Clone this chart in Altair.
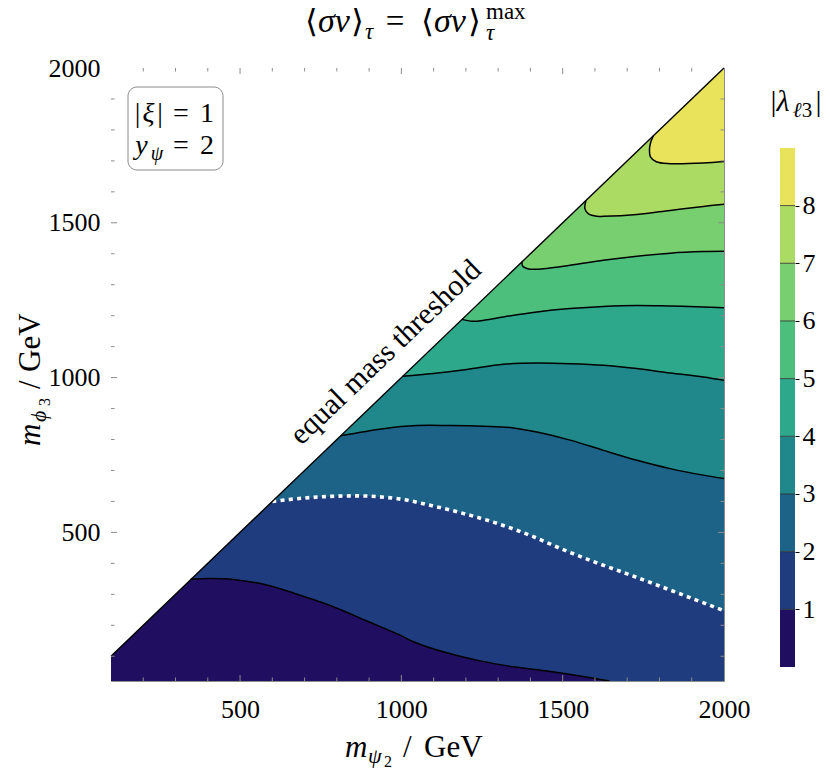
import altair as alt
import pandas as pd

FONT = "Liberation Serif"
FRAME = "#8c8c8c"

# ---------------- data ----------------
X_MIN, X_MAX = 100, 2000
Y_MIN, Y_MAX = 20, 2000
X_TICK_LABELS = [500, 1000, 1500, 2000]
Y_TICK_LABELS = [500, 1000, 1500, 2000]
X_MINOR = [200, 300, 400, 600, 700, 800, 900, 1100, 1200, 1300, 1400, 1600, 1700, 1800, 1900]
Y_MINOR = [100, 200, 300, 400, 600, 700, 800, 900, 1100, 1200, 1300, 1400, 1600, 1700, 1800, 1900]

LEVELS = [1, 2, 3, 4, 5, 6, 7, 8]
BAND_LO = [0, 1, 2, 3, 4, 5, 6, 7, 8]
BAND_COLORS = ["#200f60", "#1e3c7e", "#1d6387", "#20878a", "#2ea88a",
               "#4cbf7d", "#77cf6f", "#acdb64", "#e8e35a"]

# contour lines |lambda| = 1 ... 8 (x = m_psi2, y = m_phi3)
C1_X = [347, 407, 479, 583, 686, 789, 893, 996, 1037, 1141, 1244, 1347, 1451, 1554, 1645]
C1_Y = [349, 351, 348, 330, 297, 260, 214, 168, 147, 111, 85, 66, 52, 36, 20]
C2_X = [600, 700, 800, 900, 1000, 1100, 1200, 1300, 1400, 1500, 1600, 1700, 1800, 1900, 2000]
C2_Y = [600, 611, 617, 617, 607, 585, 559, 528, 490, 445, 404, 366, 327, 287, 247]
C3_X = [812, 944, 1048, 1151, 1254, 1337, 1420, 1523, 1626, 1730, 1833, 1936, 2000]
C3_Y = [812, 835, 845, 845, 843, 839, 824, 798, 765, 733, 706, 685, 674]
C4_X = [1004, 1099, 1203, 1316, 1420, 1523, 1626, 1730, 1833, 1936, 2000]
C4_Y = [1004, 1013, 1026, 1043, 1047, 1045, 1040, 1029, 1015, 1002, 991]
C5_X = [1188, 1220, 1260, 1316, 1420, 1523, 1626, 1730, 1833, 1936, 2000]
C5_Y = [1188, 1182, 1186, 1196, 1212, 1223, 1230, 1233, 1231, 1228, 1226]
C6_X = [1374, 1376, 1394, 1420, 1523, 1626, 1730, 1833, 1936, 2000]
C6_Y = [1374, 1360, 1351, 1350, 1363, 1379, 1392, 1402, 1407, 1408]
C7_X = [1572, 1569, 1580, 1606, 1626, 1730, 1833, 1936, 2000]
C7_Y = [1572, 1545, 1529, 1521, 1521, 1527, 1540, 1553, 1560]
C8_X = [1781, 1772, 1769, 1772, 1790, 1833, 1936, 2000]
C8_Y = [1781, 1757, 1735, 1713, 1697, 1691, 1693, 1698]

CONTOURS = [(C1_X, C1_Y), (C2_X, C2_Y), (C3_X, C3_Y), (C4_X, C4_Y),
            (C5_X, C5_Y), (C6_X, C6_Y), (C7_X, C7_Y), (C8_X, C8_Y)]

# colour bar axis domain (levels 0..9 with margins inside the panel)
CB_DOMAIN = [-0.243, 10.386]

W, H = 613, 613
PAD = 40  # fill polygons reach past the frame and are clipped

# ---------------- helpers ----------------
XS = alt.Scale(domain=[X_MIN, X_MAX], nice=False, zero=False)
YS = alt.Scale(domain=[Y_MIN, Y_MAX], nice=False, zero=False)
XAX = alt.Axis(values=X_TICK_LABELS, title=None, format="d", labelFontSize=26,
               labelPadding=15, ticks=False, domain=False, grid=False, labelFlush=False,
               labelFont=FONT, labelColor="black")
YAX = alt.Axis(values=Y_TICK_LABELS, title=None, format="d", labelFontSize=26,
               labelPadding=11, ticks=False, domain=False, grid=False, labelFlush=False,
               labelFont=FONT, labelColor="black")


def ex():
    return alt.X("x:Q", scale=XS, axis=XAX)


def ey():
    return alt.Y("y:Q", scale=YS, axis=YAX)


def poly_df(pts):
    return pd.DataFrame({"x": [p[0] for p in pts], "y": [p[1] for p in pts],
                         "i": list(range(len(pts)))})


def region_below(cx, cy):
    s = cx[0]
    lo = X_MIN - PAD
    pts = [(lo, Y_MIN - PAD), (lo, lo), (lo + 1, lo + 1), (s - 1, s - 1)]
    pts += list(zip(cx, cy))
    x1, y1, x2, y2 = cx[-2], cy[-2], cx[-1], cy[-1]
    if x2 == X_MAX:
        slope = (y2 - y1) / (x2 - x1)
        pts.append((X_MAX + PAD, y2 + slope * PAD))
        pts.append((X_MAX + PAD, Y_MIN - PAD))
    else:
        t = PAD / (y1 - y2)
        pts.append((x2 + (x2 - x1) * t, Y_MIN - PAD))
        pts.append((X_MAX + PAD, Y_MIN - PAD))
    return poly_df(pts)


def line_df(cx, cy):
    return poly_df(list(zip(cx, cy)))


ONE = pd.DataFrame({"k": [0]})


def txt(s, x, y, size, italic=False, align="center", angle=0, baseline="alphabetic", color="black"):
    kw = dict(text=s, font=FONT, fontSize=size, align=align, baseline=baseline, color=color)
    if italic:
        kw["fontStyle"] = "italic"
    if angle:
        kw["angle"] = angle
    return alt.Chart(ONE).mark_text(**kw).encode(x=alt.value(x), y=alt.value(y))


layers = []

lo = X_MIN - PAD
tri = poly_df([(lo, Y_MIN - PAD), (lo, lo), (X_MAX + PAD, X_MAX + PAD), (X_MAX + PAD, Y_MIN - PAD)])
layers.append(alt.Chart(tri).mark_line(fill=BAND_COLORS[8], strokeWidth=0, clip=True)
              .encode(x=ex(), y=ey(), order="i:Q"))

for k in range(8, 0, -1):
    cx, cy = CONTOURS[k - 1]
    layers.append(alt.Chart(region_below(cx, cy))
                  .mark_line(fill=BAND_COLORS[k - 1], strokeWidth=0, clip=True,
                             interpolate="catmull-rom")
                  .encode(x=ex(), y=ey(), order="i:Q"))

above = poly_df([(lo, lo), (lo, Y_MAX + PAD), (X_MAX + PAD, Y_MAX + PAD)])
layers.append(alt.Chart(above).mark_line(fill="white", strokeWidth=0, clip=True)
              .encode(x=ex(), y=ey(), order="i:Q"))

for k in LEVELS:
    cx, cy = CONTOURS[k - 1]
    if k == 2:
        m = alt.Chart(line_df(cx, cy)).mark_line(color="white", strokeWidth=3.6,
                                                 strokeDash=[4, 4.3], strokeCap="butt",
                                                 interpolate="catmull-rom", clip=True)
    else:
        m = alt.Chart(line_df(cx, cy)).mark_line(color="black", strokeWidth=1.5,
                                                 interpolate="catmull-rom", clip=True)
    layers.append(m.encode(x=ex(), y=ey(), order="i:Q"))

diag = poly_df([(X_MIN, X_MIN), (X_MAX, X_MAX)])
layers.append(alt.Chart(diag).mark_line(color="black", strokeWidth=1.4)
              .encode(x=ex(), y=ey(), order="i:Q"))

xmaj = pd.DataFrame({"x": X_TICK_LABELS[:-1]})
xmin_ = pd.DataFrame({"x": X_MINOR})
ymaj = pd.DataFrame({"y": Y_TICK_LABELS[:-1]})
ymin_ = pd.DataFrame({"y": Y_MINOR})
for df, ln in ((xmaj, 6), (xmin_, 3.5)):
    layers.append(alt.Chart(df).mark_rule(color=FRAME, strokeWidth=1)
                  .encode(x=ex(), y=alt.value(H), y2=alt.value(H - ln)))
    layers.append(alt.Chart(df).mark_rule(color=FRAME, strokeWidth=1)
                  .encode(x=ex(), y=alt.value(0), y2=alt.value(ln)))
for df, ln in ((ymaj, 6), (ymin_, 3.5)):
    layers.append(alt.Chart(df).mark_rule(color=FRAME, strokeWidth=1)
                  .encode(y=ey(), x=alt.value(0), x2=alt.value(ln)))
    layers.append(alt.Chart(df).mark_rule(color=FRAME, strokeWidth=1)
                  .encode(y=ey(), x=alt.value(W), x2=alt.value(W - ln)))

# parameter box
layers.append(alt.Chart(ONE).mark_rect(cornerRadius=9, fill="white", stroke="#8a8a8a",
                                       strokeWidth=1)
              .encode(x=alt.value(17), x2=alt.value(112), y=alt.value(19), y2=alt.value(102)))
layers += [
    txt("|", 26.5, 54, 28), txt("ξ", 37.5, 54, 28, italic=True), txt("|", 49, 54, 28),
    txt("=", 70, 54, 28), txt("1", 96, 54, 28),
    txt("y", 30.5, 86, 28, italic=True), txt("ψ", 46, 92, 20, italic=True),
    txt("=", 70, 86, 28), txt("2", 96, 86, 28),
]

layers.append(txt("equal mass threshold", 281, 291, 30, angle=316.2))

# title  <sigma v>_tau = <sigma v>_tau^max   (page x minus 111)
TB = -36
layers += [
    txt("⟨", 207, TB, 33, align="right"),
    txt("σv", 207, TB, 34, italic=True, align="left"),
    txt("⟩", 240, TB, 33, align="left"),
    txt("τ", 254, TB + 7, 23, italic=True, align="left"),
    txt("=", 284, TB, 33),
    txt("⟨", 323, TB, 33, align="right"),
    txt("σv", 323, TB, 34, italic=True, align="left"),
    txt("⟩", 357, TB, 33, align="left"),
    txt("τ", 375, TB + 8, 23, italic=True, align="left"),
    txt("max", 375, TB - 13.5, 23, align="left"),
]

# x axis title  m_{psi_2} / GeV
layers += [
    txt("m", 234, 689, 31, italic=True, align="left"),
    txt("ψ", 257, 695, 22, italic=True, align="left"),
    txt("2", 273, 699, 16, align="left"),
    txt("/", 292, 689, 31, align="left"),
    txt("GeV", 313, 689, 31, align="left"),
]

# y axis title  m_{phi_3} / GeV (rotated)
layers += [
    txt("m", -71, 378, 31, italic=True, align="left", angle=270),
    txt("ϕ", -65, 354, 22, italic=True, align="left", angle=270),
    txt("3", -61, 338, 16, align="left", angle=270),
    txt("/", -71, 321, 31, align="left", angle=270),
    txt("GeV", -71, 304, 31, align="left", angle=270),
]

main = alt.layer(*layers)

# ---------------- colour bar ----------------
CBAX = alt.Axis(orient="right", offset=71, values=LEVELS, format="d", title=None,
                ticks=True, tickSize=4, tickColor="black", tickWidth=1, domain=False,
                grid=False, labelFontSize=26, labelPadding=3, labelFlush=False,
                labelFont=FONT, labelColor="black")
CBS = alt.Scale(domain=CB_DOMAIN, nice=False, zero=False)
bands = pd.DataFrame({"lo": BAND_LO, "hi": [v + 1 for v in BAND_LO], "c": BAND_COLORS})
cb_rect = alt.Chart(bands).mark_rect().encode(
    y=alt.Y("lo:Q", scale=CBS, axis=CBAX), y2="hi:Q",
    x=alt.value(669), x2=alt.value(684),
    color=alt.Color("c:N", scale=None))
cb_lines = alt.Chart(pd.DataFrame({"lo": LEVELS})).mark_rule(color="#2b2b2b", strokeWidth=0.8).encode(
    y=alt.Y("lo:Q", scale=CBS, axis=CBAX), x=alt.value(669), x2=alt.value(684))
cb_title = alt.layer(
    txt("|", 662.5, 43, 30), txt("λ", 672, 43, 30, italic=True),
    txt("ℓ", 686, 48.5, 21, italic=True), txt("3", 696, 48.5, 21), txt("|", 707.5, 43, 30))
cbar = alt.layer(cb_rect, cb_lines)

chart = alt.layer(main, cbar, cb_title).resolve_scale(y="independent").properties(
    width=W, height=H,
    autosize=alt.AutoSizeParams(type="none"),
    padding={"left": 103, "top": 60, "right": 98, "bottom": 88},
).configure(font=FONT).configure_axis(labelFont=FONT, labelColor="black").configure_view(
    stroke=FRAME, strokeWidth=1)

chart.save("out.html", embed_options={"renderer": "svg", "actions": False})
